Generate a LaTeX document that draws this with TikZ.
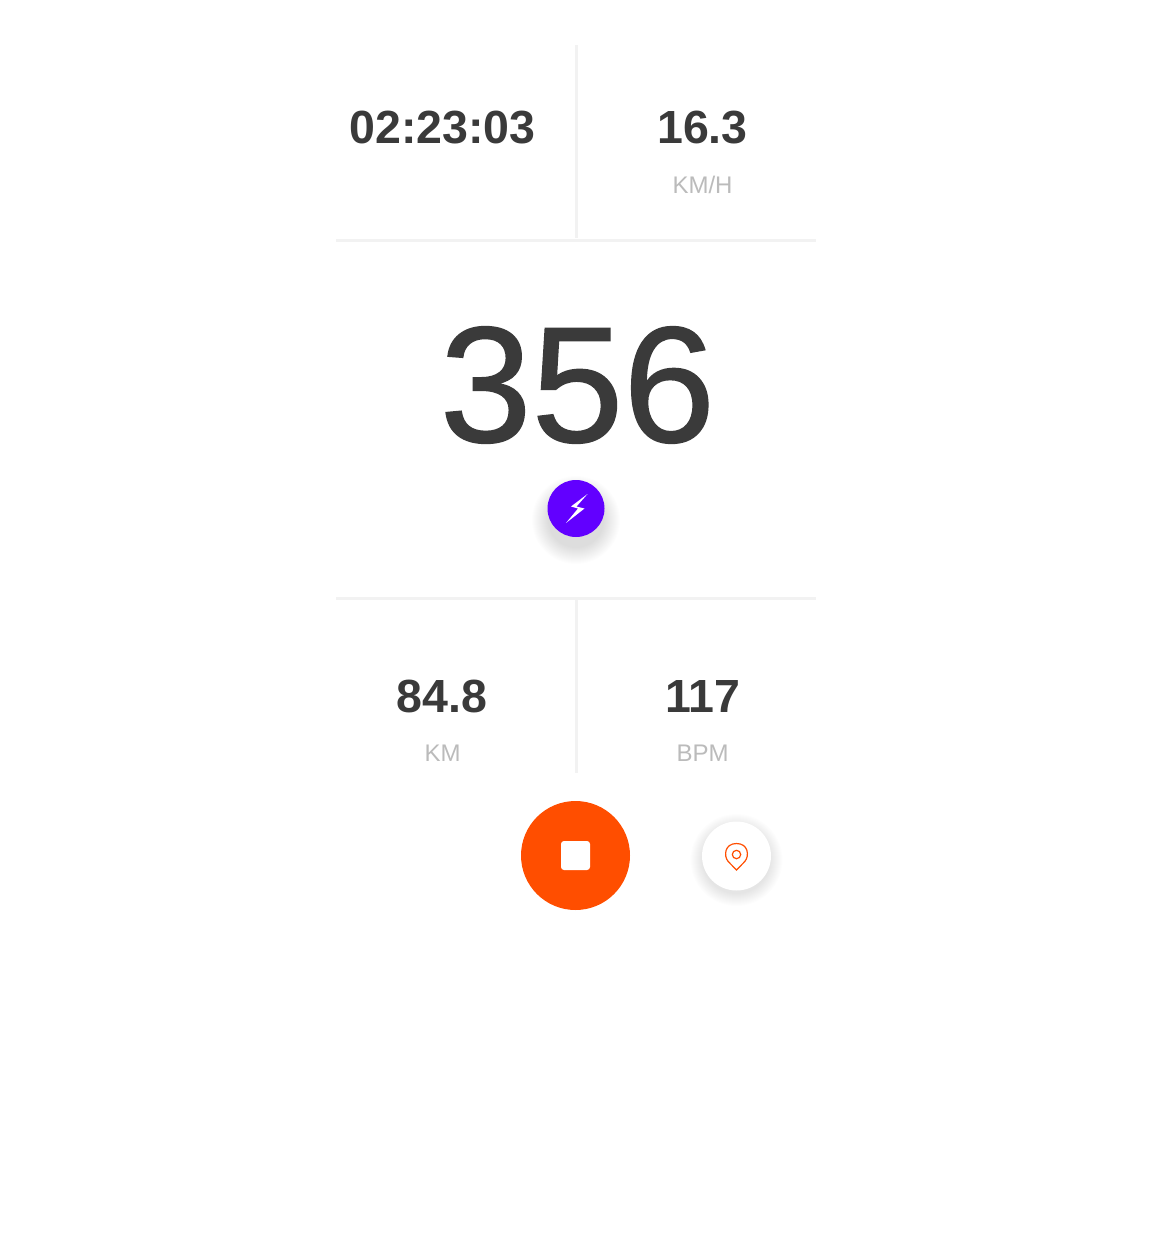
\documentclass[tikz,border=0pt]{standalone}
\usepackage{fontspec}
\setmainfont{Liberation Sans}
\newfontfamily\bignum[FakeBold=0.9]{Liberation Sans}
\definecolor{ink}{HTML}{3A3A3A}
\definecolor{soft}{HTML}{BBBBBB}
\definecolor{rule}{HTML}{F2F2F2}
\definecolor{violet}{HTML}{6200FF}
\definecolor{flame}{HTML}{FF4E00}
\tikzset{
  x=1pt,y=-1pt,
  value/.style={inner sep=0pt,anchor=center,text=ink,font=\fontsize{46.5}{46.5}\selectfont\bfseries},
  unit/.style={inner sep=0pt,anchor=center,text=soft,font=\fontsize{24}{24}\selectfont},
  divider/.style={draw=rule,line width=3pt},
  halo/.style={fill=black,opacity=0.006,draw=none}
}
\begin{document}
\begin{tikzpicture}
\useasboundingbox (0,0) rectangle (1152,1245);
\fill[white] (0,0) rectangle (1152,1245);
% dividers
\coordinate (h1l) at (336,240); \coordinate (h1r) at (816,240);
\coordinate (h2l) at (336,598); \coordinate (h2r) at (816,598);
\coordinate (v1t) at (576,45);  \coordinate (v1b) at (576,238);
\coordinate (v2t) at (576,600); \coordinate (v2b) at (576,773);
\draw[divider] (h1l) -- (h1r);
\draw[divider] (h2l) -- (h2r);
\draw[divider] (v1t) -- (v1b);
\draw[divider] (v2t) -- (v2b);
% texts
\node[value] (time) at (442.5,127.5) {02:23:03};
\node[value] (speed) at (702.5,127.5) {16.3};
\node[unit] (speedu) at (702.5,185) {KM/H};
\node[inner sep=0pt,text=ink,font=\bignum\fontsize{165}{165}\selectfont] (power) at (577.5,385) {356};
\node[value] (dist) at (442,696.5) {84.8};
\node[unit] (distu) at (442.5,753.5) {KM};
\node[value] (bpm) at (703,696.5) {117};
\node[unit] (bpmu) at (702.5,753.5) {BPM};
% bolt badge
\foreach \r in {28,29,...,44}{\fill[halo,opacity=0.007] (576,520) circle[radius=\r];}
\node[circle,fill=violet,minimum size=57pt,inner sep=0pt] (bolt) at (576,508.5) {};
\fill[white] (587.5,494) -- (571,506.5) -- (578,508.5) -- (566,523) -- (584.5,508.5) -- (576.5,506.5) -- cycle;
% stop button
\node[circle,fill=flame,minimum size=109pt,inner sep=0pt] (stop) at (575.5,855.5) {};
\node[fill=white,rounded corners=3pt,minimum size=29pt,inner sep=0pt] (stopi) at (575.5,855.5) {};
% pin button
\foreach \r in {34,35,...,46}{\fill[halo,opacity=0.006] (736.5,860) circle[radius=\r];}
\node[circle,fill=white,minimum size=69pt,inner sep=0pt] (pin) at (736.5,856) {};
\draw[flame,line width=1.2pt,line join=miter]
  (736.5,870) -- (728.2,861.5) .. controls (723.5,856) and (724.5,843.5) .. (736.5,843.5)
  .. controls (748.5,843.5) and (749.5,856) .. (744.8,861.5) -- cycle;
\draw[flame,line width=1.2pt] (736.5,854.5) circle[radius=4.2];
\end{tikzpicture}
\end{document}
